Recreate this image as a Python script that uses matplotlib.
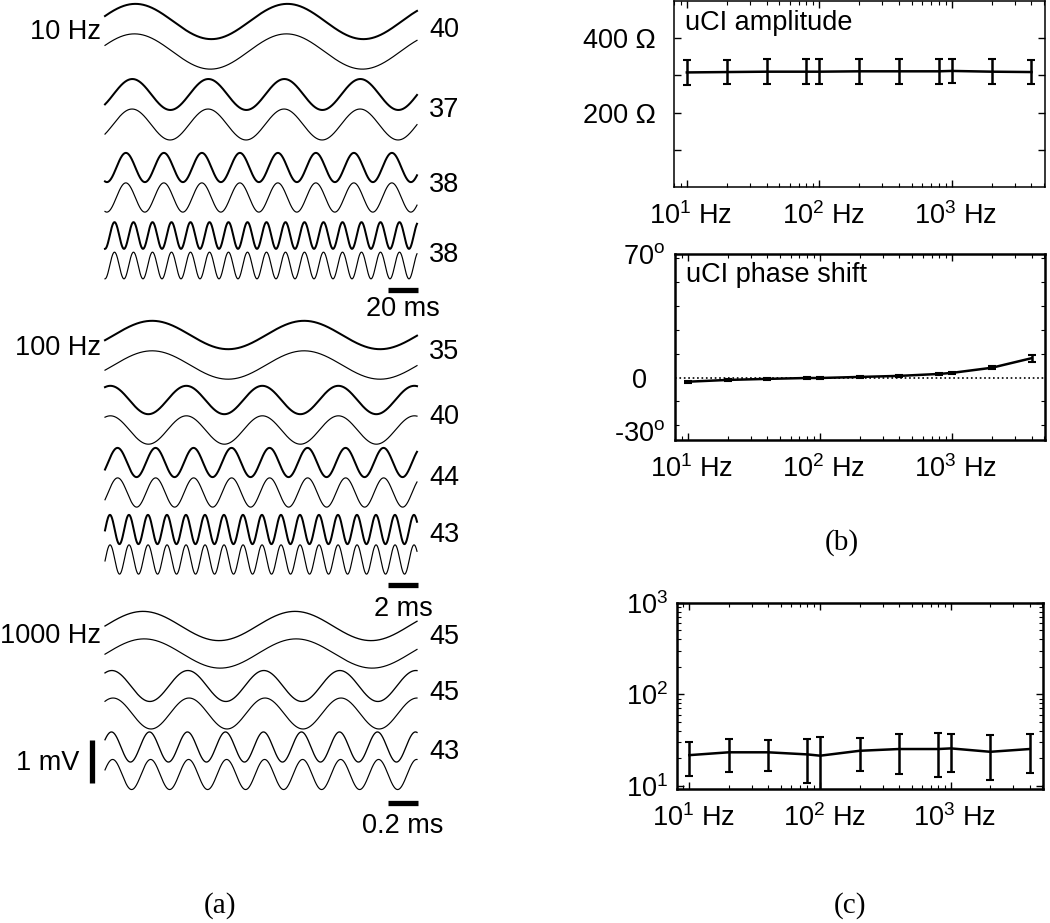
import numpy as np
import matplotlib
matplotlib.use('Agg')
import matplotlib.pyplot as plt
import matplotlib.transforms as mtrans
from matplotlib.ticker import FixedLocator, NullFormatter, MultipleLocator, LogLocator, FixedFormatter

plt.rcParams['font.family'] = ['Liberation Sans', 'DejaVu Sans']
plt.rcParams['mathtext.fontset'] = 'custom'
plt.rcParams['mathtext.rm'] = 'Liberation Sans'
plt.rcParams['mathtext.it'] = 'Liberation Sans:italic'
plt.rcParams['mathtext.bf'] = 'Liberation Sans:bold'

# ---------------- data ----------------
freqs = [10, 20, 40, 80, 100, 200, 400, 800, 1000, 2000, 4000]
gains = [40, 37, 38, 38, 35, 40, 44, 43, 45, 45, 43]

amp_ohm = [308, 309, 310, 310, 310, 311, 311, 311, 312, 310, 309]
amp_err = [33, 33, 33, 33, 33, 33, 33, 33, 33, 33, 33]

phase_deg = [-2.3, -1.3, -0.7, -0.2, -0.2, 0.4, 1.0, 2.1, 2.7, 5.6, 11.0]
phase_err = [0.6, 0.4, 0.4, 0.4, 0.4, 0.4, 0.4, 0.5, 0.5, 0.8, 1.9]

c_vals = [21.6, 23.2, 23.2, 22.0, 21.3, 24.1, 25.2, 25.2, 25.6, 23.5, 25.2]
c_low = [12.7, 14.0, 14.4, 10.8, 5.0, 14.5, 13.3, 12.6, 14.0, 11.5, 13.8]
c_high = [30.3, 32.4, 31.8, 32.4, 34.4, 33.2, 36.7, 37.9, 36.7, 36.1, 36.5]

trace_amp_mV = [0.41, 0.36, 0.34, 0.31, 0.33, 0.33, 0.34, 0.34, 0.34, 0.36, 0.35]
trace_phase_cyc = [-0.20, -0.36, -0.55, -0.50, -0.31, -0.07, -0.33, -0.26, -0.25, -0.09, -0.17]
trace_group = [0, 0, 0, 0, 1, 1, 1, 1, 2, 2, 2]

group_labels = ['10 Hz', '100 Hz', '1000 Hz']
group_base_hz = [10, 100, 1000]
scale_labels = ['20 ms', '2 ms', '0.2 ms']
scale_ms = [20, 2, 0.2]
scalebar_mV = 1.0

xtick_vals = [10, 100, 1000]
xtick_labels = [r'$10^{1}$ Hz', r'$10^{2}$ Hz', r'$10^{3}$ Hz']

# ---------------- figure ----------------
W, H = 1050, 923
fig = plt.figure(figsize=(W / 100, H / 100), dpi=100)

# left panel: layout in pixel units
axL = fig.add_axes([0, 0, 0.55, 1])
axL.set_xlim(0, 0.55 * W)
axL.set_ylim(H, 0)
axL.axis('off')

X0, X1 = 105, 417
base_cycles = 312 / 152.0
px_per_mV = 43.0
row_top = [21.5, 94.5, 167.5, 235.5, 335, 400, 462.5, 529.5, 626, 686, 747]
pair_gap = [30, 30, 30, 30, 30, 30, 30, 30, 27.5, 27.5, 27.5]
num_y = [30, 110, 185, 255, 352, 417, 478, 535, 637, 693, 752]
grp_label_y = [32, 348, 636]
bar_y = [290, 585, 803]
bar_text_y = [309, 609, 826]
FS = 19.5

for i, f in enumerate(freqs):
    g = trace_group[i]
    T = base_cycles / group_base_hz[g]
    t = np.linspace(0, T, 1500)
    x = X0 + (X1 - X0) * t / T
    A = trace_amp_mV[i] * px_per_mV
    top = row_top[i] - A * np.cos(2 * np.pi * (f * t + trace_phase_cyc[i]))
    bot = row_top[i] + pair_gap[i] - A * np.cos(
        2 * np.pi * (f * t + trace_phase_cyc[i] - phase_deg[i] / 360.0))
    lw_top = 1.45 if g < 2 else 0.95
    axL.plot(x, top, color='k', lw=lw_top)
    axL.plot(x, bot, color='k', lw=0.85)
    axL.text(429, num_y[i], str(gains[i]), fontsize=FS, ha='left', va='center')

for g in range(3):
    axL.text(101, grp_label_y[g], group_labels[g], fontsize=FS, ha='right', va='center')
    T_ms = base_cycles / group_base_hz[g] * 1000
    blen = (X1 - X0) * scale_ms[g] / T_ms
    axL.plot([418 - blen, 418], [bar_y[g], bar_y[g]], color='k', lw=3.8, solid_capstyle='butt')
    axL.text(403, bar_text_y[g], scale_labels[g], fontsize=FS, ha='center', va='center')

# 1 mV bar
axL.plot([92, 92], [783, 783 - scalebar_mV * px_per_mV], color='k', lw=3.8, solid_capstyle='butt')
axL.text(79, 763, '1 mV', fontsize=FS, ha='right', va='center')


def style_axes(ax, lw):
    for s in ax.spines.values():
        s.set_linewidth(lw)
    ax.tick_params(which='both', direction='in', top=True, right=True, labelsize=FS)
    ax.tick_params(which='major', length=5, width=1)
    ax.tick_params(which='minor', length=3, width=0.8)
    ax.set_xscale('log')
    ax.set_xlim(8.0, 5060)
    ax.xaxis.set_major_locator(FixedLocator(xtick_vals))
    ax.xaxis.set_major_formatter(FixedFormatter(xtick_labels))
    ax.xaxis.set_minor_locator(LogLocator(base=10, subs=np.arange(2, 10)))
    ax.xaxis.set_minor_formatter(NullFormatter())
    ax.tick_params(axis='x', which='major', pad=11)
    off = mtrans.ScaledTranslation(4 / 100, 0, fig.dpi_scale_trans)
    for lab in ax.get_xticklabels():
        lab.set_transform(lab.get_transform() + off)


def fa(x0, y0, x1, y1):
    return [x0 / W, 1 - y1 / H, (x1 - x0) / W, (y1 - y0) / H]

# amplitude
axA = fig.add_axes(fa(674, 1, 1045, 187))
style_axes(axA, 1.1)
axA.errorbar(freqs, amp_ohm, yerr=amp_err, color='k', lw=1.8, elinewidth=1.8,
             capsize=3, capthick=1.5)
axA.set_ylim(0, 500)
axA.yaxis.set_major_locator(FixedLocator([100, 200, 300, 400]))
axA.yaxis.set_major_formatter(FixedFormatter(['', '200 Ω', '', '400 Ω']))
axA.tick_params(axis='y', which='major', pad=13)
axA.text(0.03, 0.88, 'uCI amplitude', transform=axA.transAxes, fontsize=FS,
         ha='left', va='center')

# phase
axP = fig.add_axes(fa(675, 254, 1045, 440))
style_axes(axP, 1.8)
axP.axhline(0, color='k', ls=':', lw=1.2)
axP.errorbar(freqs, phase_deg, yerr=phase_err, color='k', lw=1.8, elinewidth=1.8,
             capsize=3, capthick=1.5)
axP.set_ylim(-35.3, 70)
axP.yaxis.set_major_locator(FixedLocator([-30, 0, 70]))
axP.yaxis.set_major_formatter(FixedFormatter(['-30$^{\\mathrm{o}}$', '0', '70$^{\\mathrm{o}}$']))
axP.yaxis.set_minor_locator(MultipleLocator(13.5))
axP.tick_params(axis='y', which='major', length=0, pad=7)
ticksP = axP.yaxis.get_major_ticks()
ticksP[1].set_pad(20)
axP.text(0.03, 0.885, 'uCI phase shift', transform=axP.transAxes, fontsize=FS,
         ha='left', va='center')

# (c)
axC = fig.add_axes(fa(676.7, 603, 1043, 789))
style_axes(axC, 1.8)
c_err = [np.array(c_vals) - np.array(c_low), np.array(c_high) - np.array(c_vals)]
axC.errorbar(freqs, c_vals, yerr=c_err, color='k', lw=1.8, elinewidth=1.8,
             capsize=3, capthick=1.5)
axC.set_yscale('log')
axC.set_ylim(9.2, 1000)
axC.yaxis.set_major_locator(FixedLocator([10, 100, 1000]))
axC.yaxis.set_major_formatter(FixedFormatter([r'$10^{1}$', r'$10^{2}$', r'$10^{3}$']))
axC.yaxis.set_minor_locator(LogLocator(base=10, subs=np.arange(2, 10)))
axC.yaxis.set_minor_formatter(NullFormatter())
axC.tick_params(axis='y', which='both', direction='in', labelsize=FS, pad=6)

# panel letters
fig.text(842 / W, 1 - 543 / H, '(b)', fontsize=21, family='Liberation Serif', ha='center', va='center')
fig.text(220 / W, 1 - 906 / H, '(a)', fontsize=21, family='Liberation Serif', ha='center', va='center')
fig.text(850 / W, 1 - 906 / H, '(c)', fontsize=21, family='Liberation Serif', ha='center', va='center')

fig.savefig('out.png', dpi=100)
